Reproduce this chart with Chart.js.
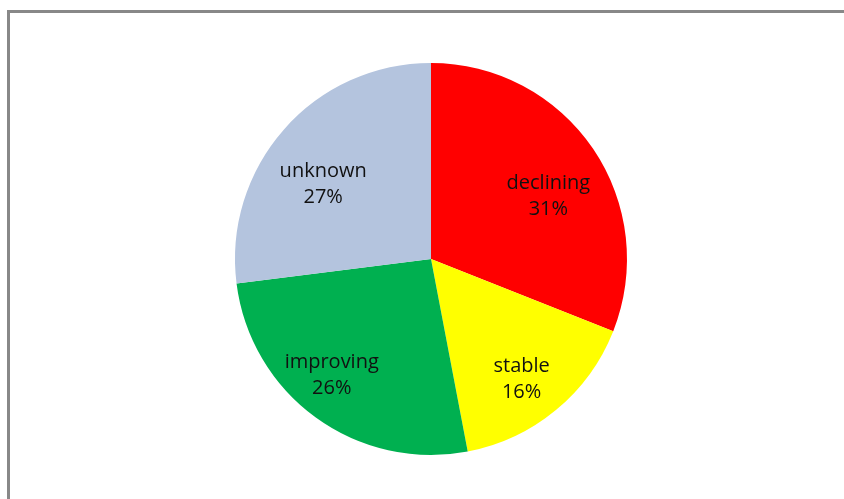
<!DOCTYPE html>
<html>
<head>
<meta charset="utf-8">
<script src="https://cdn.jsdelivr.net/npm/chart.js@4/dist/chart.umd.min.js"></script>
<style>
  html, body { margin: 0; padding: 0; background: #fff; }
  .wrap { position: relative; width: 844px; height: 499px; overflow: hidden; }
  .frame {
    position: absolute; left: 7px; top: 10px; width: 900px; height: 600px;
    border-top: 3px solid #888; border-left: 3px solid #888;
  }
  canvas { position: absolute; left: 0; top: 0; }
</style>
</head>
<body>
<div class="wrap">
  <div class="frame"></div>
  <canvas id="pieChart" width="844" height="499"></canvas>
</div>
<script>
var categories = ["declining", "stable", "improving", "unknown"];
var shares = [31, 16, 26, 27];
var colors = ["#FF0000", "#FFFF00", "#00B050", "#B4C4DE"];

// label placement per slice: distance as a fraction of the radius,
// and a small turn (degrees) away from the slice's middle angle
var labelRadius = [0.68, 0.77, 0.78, 0.67];
var labelTurn = [5.9, 2.7, 4.5, -6.6];

var sliceLabels = {
  id: "sliceLabels",
  afterDatasetsDraw: function (chart) {
    var ctx = chart.ctx;
    var meta = chart.getDatasetMeta(0);
    ctx.save();
    ctx.font = '20px "Open Sans"';
    ctx.fillStyle = "#111";
    ctx.textAlign = "center";
    ctx.textBaseline = "middle";
    meta.data.forEach(function (arc, i) {
      var mid = (arc.startAngle + arc.endAngle) / 2 + labelTurn[i] * Math.PI / 180;
      var r = arc.outerRadius * labelRadius[i];
      var x = arc.x + Math.cos(mid) * r;
      var y = arc.y + Math.sin(mid) * r;
      ctx.fillText(categories[i], x, y - 13);
      ctx.fillText(shares[i] + "%", x, y + 13);
    });
    ctx.restore();
  }
};

var ctx = document.getElementById("pieChart").getContext("2d");
var myChart = new Chart(ctx, {
  type: "pie",
  data: {
    labels: categories,
    datasets: [
      {
        data: shares,
        backgroundColor: colors,
        borderWidth: 0,
        hoverOffset: 0,
      },
    ],
  },
  options: {
    responsive: false,
    animation: false,
    layout: {
      padding: { top: 63, bottom: 44, left: 235, right: 217 },
    },
    plugins: {
      legend: { display: false },
      tooltip: { enabled: false },
    },
  },
  plugins: [sliceLabels],
});
</script>
</body>
</html>
